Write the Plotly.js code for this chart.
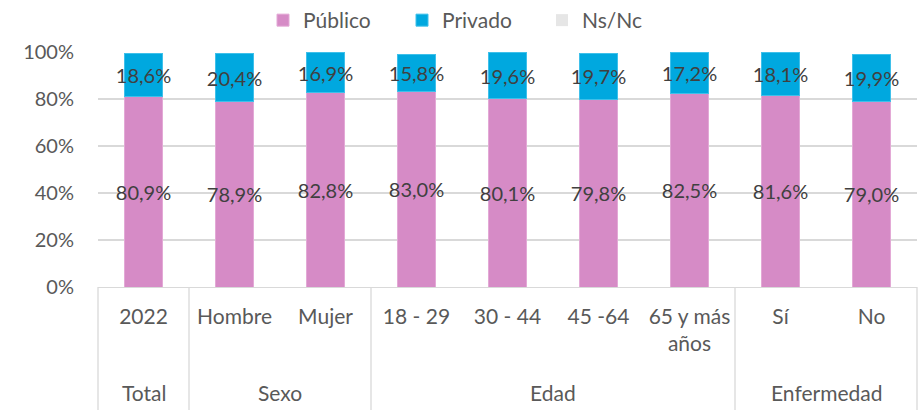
<!DOCTYPE html>
<html>
<head>
<meta charset="utf-8">
<script src="https://cdn.plot.ly/plotly-3.0.1.min.js"></script>
<style>html,body{margin:0;padding:0;background:#fff;}#chart{width:921px;height:410px;}</style>
</head>
<body>
<div id="chart"></div>
<script>
const categories = ["2022", "Hombre", "Mujer", "18 - 29", "30 - 44", "45 -64", "65 y más<br>años", "Sí", "No"];
const groups = ["Total", "Sexo", "Sexo", "Edad", "Edad", "Edad", "Edad", "Enfermedad", "Enfermedad"];
const publico = [80.9, 78.9, 82.8, 83.0, 80.1, 79.8, 82.5, 81.6, 79.0];
const privado = [18.6, 20.4, 16.9, 15.8, 19.6, 19.7, 17.2, 18.1, 19.9];
const nsnc = [null, null, null, null, null, null, null, null, null];
const yTicks = [0, 20, 40, 60, 80, 100];

const xIdx = categories.map((c, i) => i);
const fmt = v => v.toFixed(1).replace('.', ',') + '%';
const FONT = 'Lato, "Open Sans", sans-serif';
const GREY = '#595959';

const barCommon = {
  type: 'bar', x: xIdx, textposition: 'inside', insidetextanchor: 'middle',
  textangle: 0, constraintext: 'none', cliponaxis: false,
  textfont: {family: FONT, size: 20, color: '#404040'},
  hoverinfo: 'skip'
};
const traces = [
  Object.assign({}, barCommon, {name: 'Público', y: publico, text: publico.map(fmt), legend: 'legend',
    marker: {color: '#D68BC6', line: {color: '#E3A9D6', width: 1}}}),
  Object.assign({}, barCommon, {name: 'Privado', y: privado, text: privado.map(fmt), legend: 'legend2',
    marker: {color: '#00A8DF', line: {color: '#3FC0EA', width: 1}}}),
  Object.assign({}, barCommon, {name: 'Ns/Nc', y: nsnc, text: nsnc.map(v => v == null ? '' : fmt(v)), legend: 'legend3',
    marker: {color: '#E6E6E6'}})
];

// group boundaries and labels
const n = categories.length;
const shapes = [];
const annotations = [];
let start = 0;
const lineStyle = {color: '#D9D9D9', width: 1.3};
shapes.push({type: 'line', xref: 'paper', yref: 'paper', x0: 0, x1: 0, y0: 0, y1: -0.6, line: lineStyle});
for (let i = 1; i <= n; i++) {
  if (i === n || groups[i] !== groups[start]) {
    const xb = i / n;
    shapes.push({type: 'line', xref: 'paper', yref: 'paper', x0: xb, x1: xb, y0: 0, y1: -0.6, line: lineStyle});
    annotations.push({xref: 'paper', yref: 'paper', x: (start + i) / 2 / n, y: -0.45,
      text: groups[start], showarrow: false, yanchor: 'middle', xanchor: 'center',
      font: {family: FONT, size: 21, color: GREY}});
    start = i;
  }
}

function legendAt(px) {
  return {orientation: 'h', x: px / 921, xref: 'container', xanchor: 'left',
    y: 1.0, yref: 'container', yanchor: 'top', bgcolor: 'rgba(0,0,0,0)',
    font: {family: FONT, size: 21, color: GREY}, itemwidth: 30};
}

const layout = {
  width: 921, height: 410,
  margin: {l: 98, r: 4, t: 52, b: 123},
  paper_bgcolor: '#ffffff', plot_bgcolor: '#ffffff',
  barmode: 'stack', bargap: 0.59,
  showlegend: true,
  legend: legendAt(263),
  legend2: legendAt(402),
  legend3: legendAt(542),
  xaxis: {
    type: 'linear', range: [-0.5, n - 0.5], tickmode: 'array', tickvals: xIdx, ticktext: categories,
    showgrid: false, zeroline: false, showline: true, linecolor: '#D9D9D9', linewidth: 1.3,
    ticks: '', ticklabelstandoff: 10,
    tickfont: {family: FONT, size: 21, color: GREY}, fixedrange: true
  },
  yaxis: {
    range: [0, 100], tickmode: 'array', tickvals: yTicks, ticktext: yTicks.map(v => v + '%'),
    showgrid: true, gridcolor: '#D9D9D9', gridwidth: 1.3, zeroline: false, showline: false,
    ticks: '', ticklabelstandoff: 23,
    tickfont: {family: FONT, size: 20, color: GREY}, fixedrange: true
  },
  shapes: shapes,
  annotations: annotations
};

Plotly.newPlot('chart', traces, layout, {staticPlot: true, displayModeBar: false});
</script>
</body>
</html>
